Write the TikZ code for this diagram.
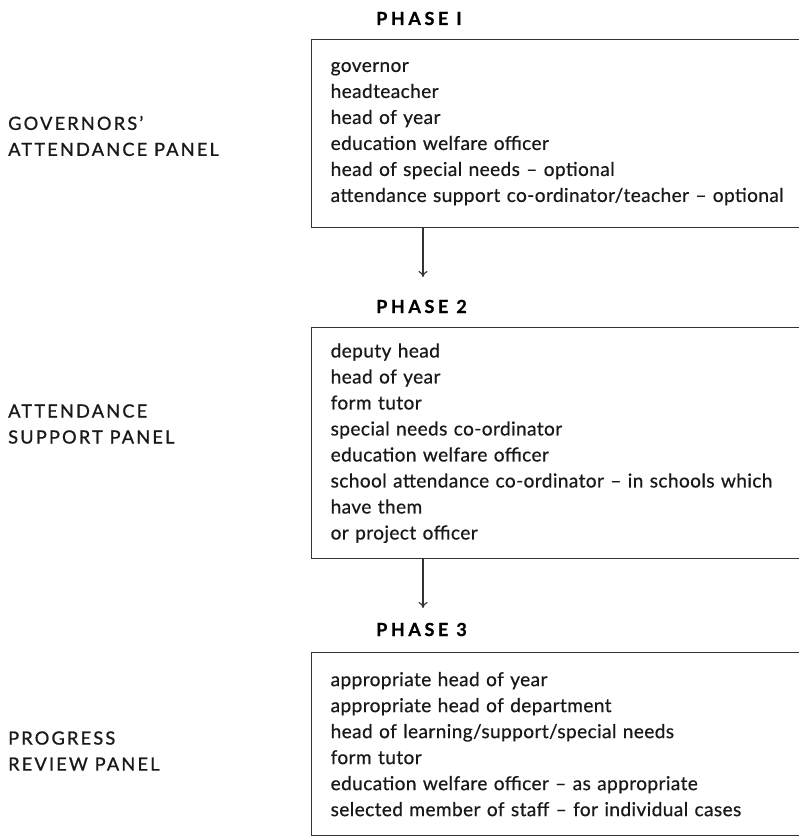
\documentclass[tikz,border=0pt]{standalone}
\usepackage{fontspec}
\setmainfont{Lato}[LetterSpace=2, FakeBold=0.6]
\newfontfamily\phasefont{Lato}[LetterSpace=20, FakeBold=1]
\newfontfamily\panelfont{Lato}[LetterSpace=12, FakeBold=1]
\usetikzlibrary{arrows.meta}

\tikzset{
  memberbox/.style={draw=black!80, line width=1.3pt, rectangle, anchor=north west,
    text width=490pt, inner xsep=19pt, inner ysep=0pt, align=left,
    font=\fontsize{19.1}{26}\selectfont, text=black!90},
  phaselabel/.style={anchor=base west, inner sep=0pt,
    font=\phasefont\bfseries\fontsize{18}{20}\selectfont, text=black},
  panellabel/.style={anchor=west, inner sep=0pt, align=left,
    font=\panelfont\fontsize{18.2}{26}\selectfont, text=black!90},
  conn/.style={draw=black!80, line width=1.1pt, -{To[length=6pt,width=9pt]}}
}

\begin{document}
\begin{tikzpicture}[x=1pt,y=-1pt]
\useasboundingbox (0,0) rectangle (799,837);
\clip (0,0) rectangle (799,837);

% phase headings
\node[phaselabel] (ph1) at (376,25) {PHASE I};
\node[phaselabel] (ph2) at (376,313) {PHASE 2};
\node[phaselabel] (ph3) at (376,636) {PHASE 3};

% panel names on the left
\node[panellabel] (pan1) at (8,136) {GOVERNORS’\\ATTENDANCE PANEL};
\node[panellabel] (pan2) at (8,424) {ATTENDANCE\\SUPPORT PANEL};
\node[panellabel] (pan3) at (8,751) {PROGRESS\\REVIEW PANEL};

% member lists
\node[memberbox, minimum height=188pt] (box1) at (311,39) {governor\\headteacher\\head of year\\education welfare officer\\head of special needs -- optional\\attendance support co-ordinator/teacher -- optional};
\node[memberbox, minimum height=231pt] (box2) at (311,327) {deputy head\\head of year\\form tutor\\special needs co-ordinator\\education welfare officer\\school attendance co-ordinator -- in schools which\\have them\\or project officer};
\node[memberbox, minimum height=183pt] (box3) at (311,652) {appropriate head of year\\appropriate head of department\\head of learning/support/special needs\\form tutor\\education welfare officer -- as appropriate\\selected member of staff -- for individual cases};

% flow between phases
\coordinate (a1e) at (423,277);
\coordinate (a2e) at (423,608);
\draw[conn] (box1.south -| a1e) -- (a1e);
\draw[conn] (box2.south -| a2e) -- (a2e);
\end{tikzpicture}
\end{document}
